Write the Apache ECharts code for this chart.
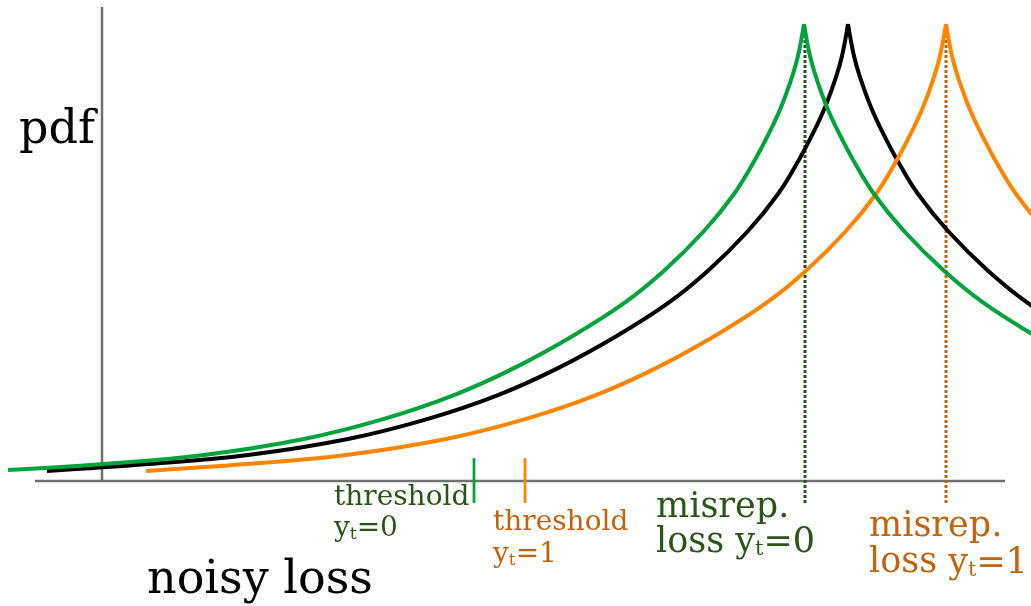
<!DOCTYPE html>
<html>
<head>
<meta charset="utf-8">
<script src="https://cdn.jsdelivr.net/npm/echarts@6/dist/echarts.min.js"></script>
<style>
html,body{margin:0;padding:0;background:#fff;}
#chart{width:1031px;height:606px;}
</style>
</head>
<body>
<div id="chart"></div>
<script>
// ---- data (x: noisy loss, y: pdf, peak = 1) ----
const greenLeft  = [[-0.94,0.024],[0.02,0.037],[1.02,0.057],[2.02,0.092],[2.82,0.136],[3.52,0.188],[4.12,0.247],[4.72,0.319],[5.22,0.389],[5.62,0.460],[6.02,0.547],[6.32,0.628],[6.54,0.707],[6.67,0.761],[6.79,0.818],[6.90,0.884],[6.96,0.930],[7.02,1.0]];
const greenRight = [[7.02,1.0],[7.08,0.930],[7.14,0.884],[7.25,0.818],[7.37,0.761],[7.50,0.707],[7.72,0.628],[8.02,0.547],[8.42,0.460],[8.82,0.389],[9.32,0.319]];
const blackLeft  = [[-0.55,0.022],[0.46,0.037],[1.46,0.057],[2.46,0.092],[3.26,0.136],[3.96,0.188],[4.56,0.247],[5.16,0.319],[5.66,0.389],[6.06,0.460],[6.46,0.547],[6.76,0.628],[6.98,0.707],[7.11,0.761],[7.23,0.818],[7.34,0.884],[7.40,0.930],[7.46,1.0]];
const blackRight = [[7.46,1.0],[7.52,0.930],[7.58,0.884],[7.69,0.818],[7.81,0.761],[7.94,0.707],[8.16,0.628],[8.46,0.547],[8.86,0.460],[9.26,0.389],[9.76,0.319]];
const orangeLeft = [[0.44,0.022],[1.44,0.037],[2.44,0.057],[3.44,0.092],[4.24,0.136],[4.94,0.188],[5.54,0.247],[6.14,0.319],[6.64,0.389],[7.04,0.460],[7.44,0.547],[7.74,0.628],[7.96,0.707],[8.09,0.761],[8.21,0.818],[8.32,0.884],[8.38,0.930],[8.44,1.0]];
const orangeRight = [[8.44,1.0],[8.50,0.930],[8.56,0.884],[8.67,0.818],[8.79,0.761],[8.92,0.707],[9.14,0.628],[9.44,0.547]];
const thresholds = [3.72, 4.23];          // threshold y_t=0, y_t=1
const misrepLoss = [7.03, 8.44];          // misreported loss y_t=0, y_t=1
const xAxisSpan = [-0.67, 9.03];
const yAxisSpan = [-0.002, 1.037];
const tickSpan = [0.05, -0.048];
const dotTop = 0.987;

const GREEN = '#00a33c', ORANGE = '#ff8500', AXIS = '#707070';
const DKGREEN = '#2b5418', DKORANGE = '#c0640e';
const SERIF = '"DejaVu Serif", serif';

function seg(data, color, width, type, z) {
  return {
    type: 'line', data: data, showSymbol: false, clip: false, silent: true, z: z || 2,
    lineStyle: { color: color, width: width, type: type || 'solid' }
  };
}
function curve(data, color, z) {
  const s = seg(data, color, 4, 'solid', z);
  s.smooth = 0.4;
  return s;
}

const chart = echarts.init(document.getElementById('chart'), null, { renderer: 'canvas' });
const sub = (size) => ({ fontSize: size, fontFamily: SERIF, verticalAlign: 'bottom' });

chart.setOption({
  animation: false,
  backgroundColor: '#ffffff',
  grid: { left: 0, right: 0, top: 0, bottom: 0 },
  xAxis: { type: 'value', min: -1.02, max: 9.29, show: false },
  yAxis: { type: 'value', min: -0.2735, max: 1.0525, show: false },
  series: [
    seg([[xAxisSpan[0], 0], [xAxisSpan[1], 0]], AXIS, 2.5, 'solid', 1),
    seg([[0, yAxisSpan[0]], [0, yAxisSpan[1]]], AXIS, 2.5, 'solid', 1),
    seg([[thresholds[0], tickSpan[0]], [thresholds[0], tickSpan[1]]], GREEN, 2.8, 'solid', 1),
    seg([[thresholds[1], tickSpan[0]], [thresholds[1], tickSpan[1]]], ORANGE, 2.8, 'solid', 1),
    seg([[misrepLoss[0], dotTop], [misrepLoss[0], tickSpan[1]]], DKGREEN, 3, [3, 2], 1),
    seg([[misrepLoss[1], dotTop], [misrepLoss[1], tickSpan[1]]], DKORANGE, 3, [3, 2], 1),
    curve(blackLeft, '#000000', 3),
    curve(blackRight, '#000000', 3),
    curve(orangeLeft, ORANGE, 4),
    curve(orangeRight, ORANGE, 4),
    curve(greenLeft, GREEN, 5),
    curve(greenRight, GREEN, 5)
  ],
  graphic: [
    { type: 'text', x: 19, y: 108, style: { text: 'pdf', font: '46px ' + SERIF, fill: '#000', verticalAlign: 'top' } },
    { type: 'text', x: 147, y: 558, style: { text: 'noisy loss', font: '46px ' + SERIF, fill: '#000', verticalAlign: 'top' } },
    { type: 'text', x: 334, y: 483, style: {
        text: 'threshold\n{a|y}{s|t}{a|=0}', font: '28px ' + SERIF, fill: DKGREEN, lineHeight: 30, verticalAlign: 'top',
        rich: { a: { fontSize: 28, fontFamily: SERIF, verticalAlign: 'bottom', lineHeight: 30 }, s: sub(17) } } },
    { type: 'text', x: 493, y: 507, style: {
        text: 'threshold\n{a|y}{s|t}{a|=1}', font: '28px ' + SERIF, fill: DKORANGE, lineHeight: 31, verticalAlign: 'top',
        rich: { a: { fontSize: 28, fontFamily: SERIF, verticalAlign: 'bottom', lineHeight: 31 }, s: sub(17) } } },
    { type: 'text', x: 656, y: 490, style: {
        text: 'misrep.\nloss {a|y}{s|t}{a|=0}', font: '35px ' + SERIF, fill: DKGREEN, lineHeight: 35, verticalAlign: 'top',
        rich: { a: { fontSize: 35, fontFamily: SERIF, verticalAlign: 'bottom', lineHeight: 35 }, s: sub(21) } } },
    { type: 'text', x: 869, y: 509, style: {
        text: 'misrep.\nloss {a|y}{s|t}{a|=1}', font: '35px ' + SERIF, fill: DKORANGE, lineHeight: 36, verticalAlign: 'top',
        rich: { a: { fontSize: 35, fontFamily: SERIF, verticalAlign: 'bottom', lineHeight: 36 }, s: sub(21) } } }
  ]
});
</script>
</body>
</html>
